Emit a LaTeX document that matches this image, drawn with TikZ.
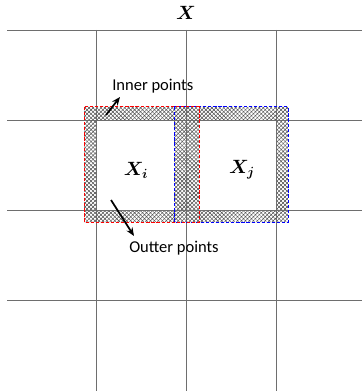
\documentclass[tikz,border=0pt]{standalone}
\usepackage{amsmath,bm}
\usepackage{fontspec}
\setsansfont{Carlito}
\usetikzlibrary{arrows.meta,patterns.meta}
\definecolor{gridgray}{HTML}{6E6E6E}
\definecolor{hatch}{HTML}{4A4A4A}
\tikzset{gridline/.style={draw=gridgray,line width=.6pt},zone/.style={dashed,dash pattern=on 2.4pt off 1.4pt,line width=.75pt},band/.style={pattern color=hatch,even odd rule},lbl/.style={font=\sffamily\fontsize{12.4}{14}\selectfont,inner sep=0pt,anchor=west},sym/.style={font=\fontsize{14}{16}\selectfont,inner sep=0pt},pointer/.style={-{Stealth[length=2.2mm,width=1.8mm]},line width=1.3pt}}
\begin{document}
\begin{tikzpicture}[x=.75pt,y=-.75pt]
\useasboundingbox (0,0) rectangle (362,391);
% hatched bands round both cells
\foreach \a in {45,-45}{\fill[band,pattern={Lines[angle=\a,distance=2.1pt,line width=.35pt]}] (84,107) rectangle (288,222) (96,120) rectangle (174,210) (199,120) rectangle (276,210);}
% grid
\foreach \y in {30,120,210.5,300.5}{\draw[gridline](7,\y)--(362,\y);}
\foreach \x in {96,186,276}{\draw[gridline](\x,30)--(\x,391);}
\draw[zone,blue](174,107) rectangle (288,222);
\draw[zone,red](84,107) rectangle (199,222);
\node[sym](X) at (186,13){$\bm{X}$};
\node[sym](Xi) at (136,170){$\bm{X}_{\bm{i}}$};
\node[sym](Xj) at (242,170){$\bm{X}_{\bm{j}}$};
\node[lbl](inner) at (112,86){Inner points};
\node[lbl](outer) at (129,248){Outter points};
\coordinate (ia) at (106,115); \coordinate (ib) at (120,97);
\coordinate (oa) at (111,200); \coordinate (ob) at (134,236);
\draw[pointer](ia)--(ib);
\draw[pointer](oa)--(ob);
\end{tikzpicture}
\end{document}
